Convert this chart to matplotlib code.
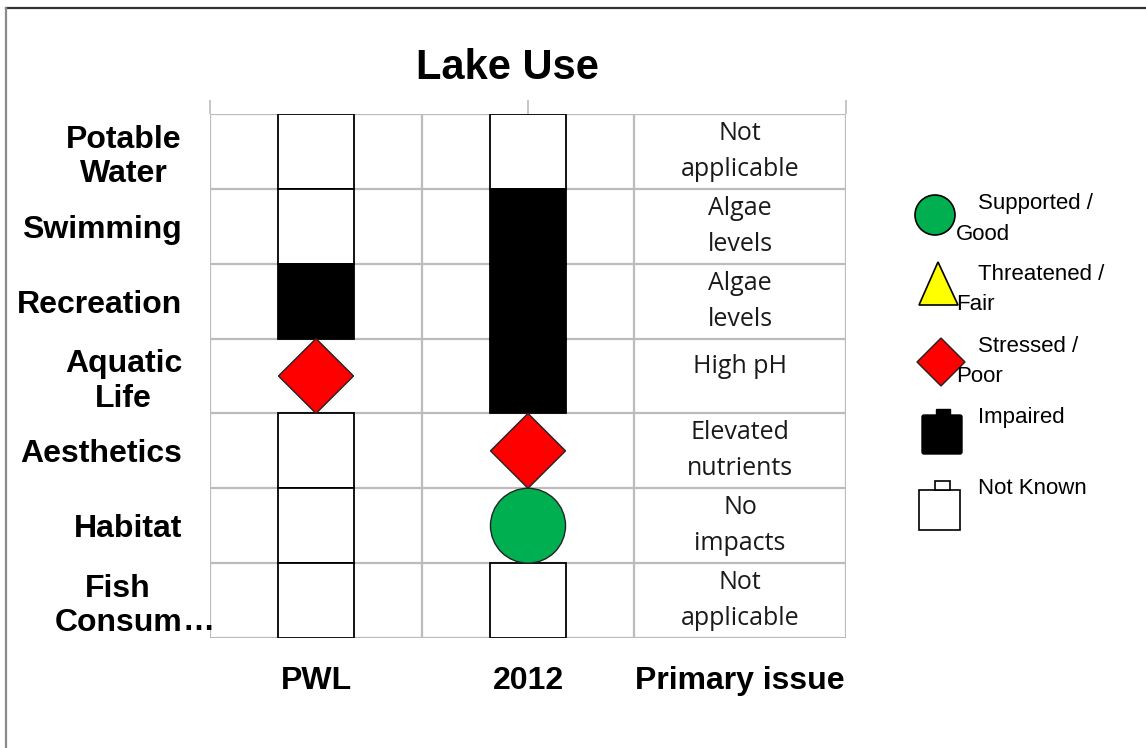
import matplotlib
matplotlib.use("Agg")
import matplotlib.pyplot as plt
from matplotlib.patches import Rectangle, Polygon, Ellipse, FancyBboxPatch
from matplotlib.lines import Line2D
from matplotlib.transforms import blended_transform_factory, offset_copy

# ---------------- data ----------------
title = "Lake Use"
uses = ["Potable\nWater", "Swimming", "Recreation", "Aquatic\nLife",
        "Aesthetics", "Habitat", "Fish\nConsum\u2026"]
columns = ["PWL", "2012", "Primary issue"]
pwl_status = ["Not Known", "Not Known", "Impaired", "Stressed / Poor",
              "Not Known", "Not Known", "Not Known"]
y2012_status = ["Not Known", "Impaired", "Impaired", "Impaired",
                "Stressed / Poor", "Supported / Good", "Not Known"]
primary_issue = ["Not\napplicable", "Algae\nlevels", "Algae\nlevels", "High pH",
                 "Elevated\nnutrients", "No\nimpacts", "Not\napplicable"]
legend_labels = ["Supported /\nGood", "Threatened /\nFair", "Stressed /\nPoor",
                 "Impaired", "Not Known"]

W, H = 1146, 748
fig = plt.figure(figsize=(W / 100, H / 100), dpi=100)

def fx(px):
    return px / W

def fy(py):
    return 1 - py / H

# outer frame (partly cut off by the image edges)
fig.add_artist(Line2D([fx(6), 1.0], [fy(8), fy(8)], color="#333333", lw=1.6))
fig.add_artist(Line2D([fx(6), fx(6)], [fy(8), 0.0], color="#8a8a8a", lw=1.6))

# ---------------- main grid axes ----------------
left, right, top, bottom = 210, 846, 114, 638
ax = fig.add_axes([fx(left), fy(bottom), fx(right - left), (bottom - top) / H])
nrows = len(uses)
ax.set_xlim(0, 3)
ax.set_ylim(nrows, 0)

grid_c = "#bcbcbc"
for i in range(nrows + 1):
    ax.axhline(i, color=grid_c, lw=1.6, zorder=1)
for j in range(4):
    ax.axvline(j, color=grid_c, lw=1.6, zorder=1)
for s in ax.spines.values():
    s.set_visible(False)

half = 0.177

def draw_status(xc, row, status):
    if status == "Not Known":
        ax.add_patch(Rectangle((xc - half, row), 2 * half, 1, facecolor="white",
                               edgecolor="black", lw=1.3, zorder=3))
    elif status == "Impaired":
        ax.add_patch(Rectangle((xc - half, row), 2 * half, 1, facecolor="black",
                               edgecolor="black", lw=1.3, zorder=4))
    elif status == "Stressed / Poor":
        ax.add_patch(Polygon([(xc, row), (xc + half, row + 0.5), (xc, row + 1),
                              (xc - half, row + 0.5)], closed=True,
                             facecolor="#ff0000", edgecolor="#222222", lw=1.0, zorder=5))
    elif status == "Supported / Good":
        ax.add_patch(Ellipse((xc, row + 0.5), 2 * half, 1, facecolor="#00b050",
                             edgecolor="#222222", lw=1.0, zorder=5))

for r, st in enumerate(pwl_status):
    draw_status(0.5, r, st)
for r, st in enumerate(y2012_status):
    draw_status(1.5, r, st)

for r, txt in enumerate(primary_issue):
    yc = r + 0.5 if "\n" in txt else r + 0.37
    ax.text(2.5, yc, txt, ha="center", va="center", family="Open Sans",
            fontsize=18, color="#1a1a1a", linespacing=1.58, zorder=6)

# row names (right aligned, centred line by line; truncation mark overflows)
ax.set_yticks([])
trans = blended_transform_factory(ax.transAxes, ax.transData)
lbl_trans = offset_copy(trans, fig=fig, x=-28, y=0, units="dots")
for r, lbl in enumerate(uses):
    body = lbl.rstrip("\u2026")
    ax.text(0, r + 0.5, body, transform=lbl_trans, ha="right", va="center_baseline",
            multialignment="center", family="Liberation Sans", fontweight="bold",
            fontsize=23, linespacing=1.18, clip_on=False)
    if lbl.endswith("\u2026"):
        ax.text(0, r + 0.5 + 0.235, "\u2026", transform=lbl_trans, ha="left",
                va="center_baseline", family="Liberation Sans", fontweight="bold",
                fontsize=23, clip_on=False)

# top ticks, bottom column labels
ax.xaxis.remove_overlapping_locs = False
ax.set_xticks([0, 1.5, 3])
ax.set_xticks([0.5, 1.5, 2.5], minor=True)
ax.set_xticklabels([], minor=False)
ax.set_xticklabels(columns, minor=True, family="Liberation Sans",
                   fontweight="bold", fontsize=23)
ax.tick_params(axis="x", which="major", top=True, bottom=False, labeltop=False,
               labelbottom=False, length=10, width=1.2, color=grid_c, direction="out")
ax.tick_params(axis="x", which="minor", top=False, bottom=False, labelbottom=True,
               labeltop=False, length=0, pad=20)

# title
fig.text(fx(507), fy(68), title, ha="center", va="center",
         family="Liberation Sans", fontweight="bold", fontsize=30)

# ---------------- legend axes (pixel coordinates) ----------------
L0, L1, T0, T1 = 900, 1146, 180, 545
lax = fig.add_axes([fx(L0), fy(T1), fx(L1 - L0), (T1 - T0) / H])
lax.set_xlim(L0, L1)
lax.set_ylim(T1, T0)
lax.axis("off")

# markers
lax.add_patch(Ellipse((935, 215), 40, 40, facecolor="#00b050", edgecolor="black", lw=1.2))
lax.add_patch(Polygon([(938, 262), (958, 305), (919, 305)], closed=True,
                      facecolor="#ffff00", edgecolor="black", lw=1.2))
lax.add_patch(Polygon([(941, 338), (965, 362), (941, 386), (917, 362)], closed=True,
                      facecolor="#ff0000", edgecolor="#222222", lw=1.0))
lax.add_patch(FancyBboxPatch((922, 415), 40, 39, boxstyle="round,pad=0,rounding_size=2",
                             facecolor="black", edgecolor="black", lw=1))
lax.add_patch(Rectangle((936, 409), 14, 7, facecolor="black", edgecolor="black", lw=1))
lax.add_patch(Rectangle((919, 490), 41, 40, facecolor="white", edgecolor="black", lw=1.2))
lax.add_patch(Rectangle((935, 481), 15, 9, facecolor="white", edgecolor="black", lw=1.2))

leg_y = [204, 275, 346, 417, 489]
for lbl, yy in zip(legend_labels, leg_y):
    lines = lbl.split("\n")
    lax.text(978, yy, lines[0], ha="left", va="center", family="Liberation Sans",
             fontsize=16, color="black")
    if len(lines) > 1:
        lax.text(956, yy + 30, lines[1], ha="left", va="center",
                 family="Liberation Sans", fontsize=16, color="black")

fig.savefig("out.png", dpi=100)
